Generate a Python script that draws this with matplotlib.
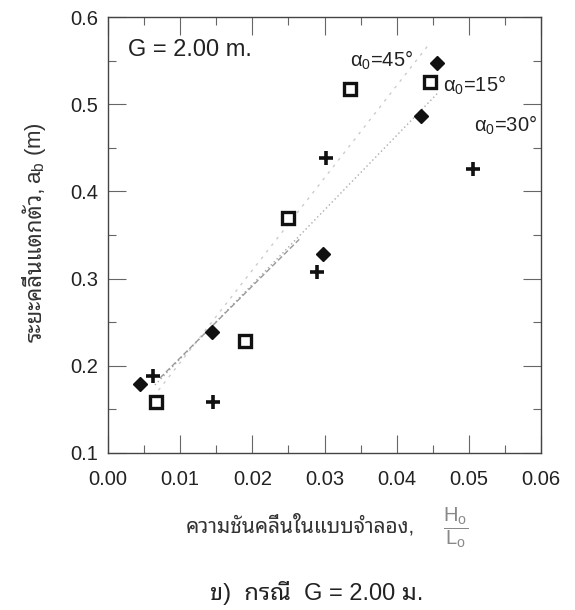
import numpy as np
import matplotlib
matplotlib.use("Agg")
import matplotlib.pyplot as plt
from matplotlib.ticker import MultipleLocator, FormatStrFormatter

# data
diamond_x = [0.0044, 0.0144, 0.0298, 0.0434, 0.0456]
diamond_y = [0.179, 0.239, 0.328, 0.486, 0.547]
square_x = [0.0067, 0.0190, 0.0249, 0.0335, 0.0446]
square_y = [0.159, 0.228, 0.369, 0.518, 0.526]
cross_x = [0.0063, 0.0146, 0.0290, 0.0302, 0.0506]
cross_y = [0.188, 0.159, 0.307, 0.438, 0.426]

# faint trend lines
fit1_x = [0.0065, 0.0456]
fit1_y = [0.178, 0.512]
fit2_x = [0.0070, 0.0446]
fit2_y = [0.172, 0.570]
fit3_x = [0.0072, 0.0265]
fit3_y = [0.186, 0.345]

x_ticks = [0.00, 0.01, 0.02, 0.03, 0.04, 0.05, 0.06]
y_ticks = [0.1, 0.2, 0.3, 0.4, 0.5, 0.6]

plt.rcParams['font.family'] = ['Liberation Sans', 'Noto Sans Thai Looped', 'DejaVu Sans']
plt.rcParams['mathtext.fontset'] = 'custom'
plt.rcParams['mathtext.rm'] = 'Liberation Sans'
plt.rcParams['mathtext.it'] = 'Liberation Sans:italic'
plt.rcParams['mathtext.default'] = 'regular'

W, H = 575, 610
fig = plt.figure(figsize=(W / 100, H / 100), dpi=100)
ax = fig.add_axes([108 / W, 1 - 453 / H, 433 / W, 436 / H])

ax.plot(fit1_x, fit1_y, ls=(0, (1, 2)), color='#aaaaaa', lw=1)
ax.plot(fit2_x, fit2_y, ls=(0, (2, 4)), color='#cccccc', lw=1)
ax.plot(fit3_x, fit3_y, ls=(0, (4, 2)), color='#999999', lw=1)

ax.plot(diamond_x, diamond_y, 'D', color='#111111', ms=7, ls='none')
ax.plot(square_x, square_y, 's', mfc='white', mec='#111111', mew=2.4, ms=9, ls='none')
ax.plot(cross_x, cross_y, '+', color='#111111', mew=2.6, ms=10, ls='none')

ax.set_xlim(0, 0.06)
ax.set_ylim(0.1, 0.6)
ax.set_xticks(x_ticks)
ax.set_yticks(y_ticks)
ax.xaxis.set_minor_locator(MultipleLocator(0.005))
ax.yaxis.set_minor_locator(MultipleLocator(0.05))
ax.xaxis.set_major_formatter(FormatStrFormatter('%.2f'))
ax.yaxis.set_major_formatter(FormatStrFormatter('%.1f'))
ax.tick_params(which='both', direction='in', top=True, right=True,
               colors='#666666', labelcolor='#222222', labelsize=14.5)
ax.tick_params(which='major', length=13, width=0.8)
ax.tick_params(which='minor', length=6, width=0.8)
ax.tick_params(axis='x', pad=12)
ax.tick_params(axis='y', pad=7)
for sp in ax.spines.values():
    sp.set_color('#444444')
    sp.set_linewidth(1)

fig.text(128 / W, 1 - 50 / H, 'G = 2.00 m.', va='center', fontsize=17, color='#222222')
fig.text(350 / W, 1 - 60 / H, r'$α_0$=45°', va='center', fontsize=14.5, color='#222222')
fig.text(443 / W, 1 - 85 / H, r'$α_0$=15°', va='center', fontsize=14.5, color='#222222')
fig.text(474 / W, 1 - 125 / H, r'$α_0$=30°', va='center', fontsize=14.5, color='#222222')

fig.text(300 / W, 1 - 525 / H, 'ความชันคลื่นในแบบจำลอง,', ha='center', va='center',
         fontsize=15, color='#333333')
fig.text(456 / W, 1 - 528 / H, r'$\dfrac{H_o}{L_o}$', ha='center', va='center',
         fontsize=14.5, color='#888888')
fig.text(317 / W, 1 - 593 / H, 'ข)  กรณี  G = 2.00 ม.', ha='center', va='center',
         fontsize=17, color='#222222')

t1 = fig.text(35 / W, 1 - 342 / H, 'ระยะคลื่นแตกตัว,', rotation=90, ha='center',
              va='bottom', fontsize=16, color='#333333')
fig.canvas.draw()
bb = t1.get_window_extent()
fig.text(35 / W, (bb.y1 + 3) / H, r'$a_b$ (m)', rotation=90, ha='center',
         va='bottom', fontsize=16, color='#333333')

fig.savefig('out.png')
